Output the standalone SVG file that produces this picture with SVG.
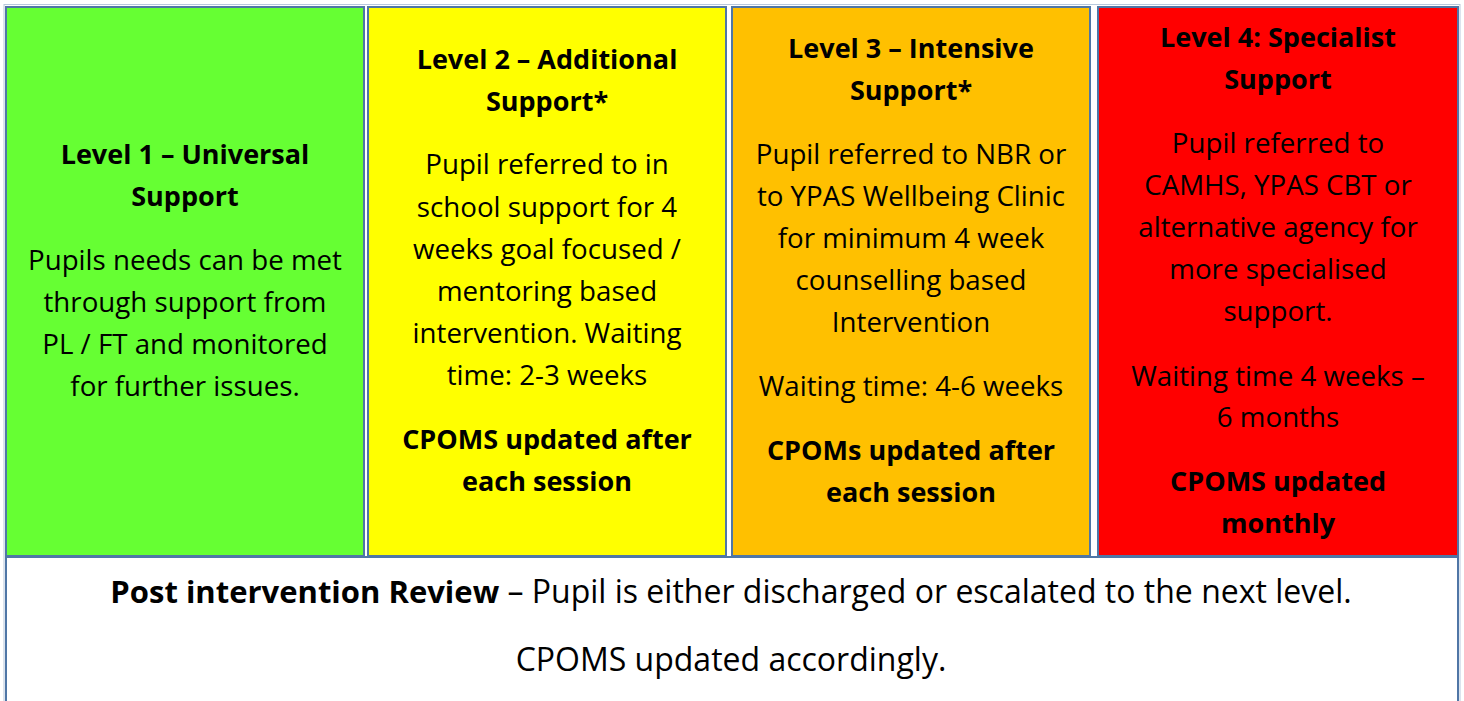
<svg xmlns="http://www.w3.org/2000/svg" width="1464" height="701" viewBox="0 0 1464 701">
<style>
.cell{stroke:#4f76a6;stroke-width:2}
text{font-family:"Open Sans","Noto Sans","Liberation Sans",sans-serif;font-size:27.7px;fill:#000;text-anchor:middle}
.b{font-weight:bold;font-size:27px}
.r{font-size:32px}
.rb{font-weight:bold;font-size:31px}
</style>
<rect x="0" y="0" width="1464" height="701" fill="#fff"/>
<rect x="4" y="4.5" width="1456" height="700" fill="none" stroke="#b8c8dc" stroke-width="1"/>
<g id="level1">
<rect class="cell" x="6" y="7" width="358" height="549" fill="#66ff33"/>
<text class="b" x="185" y="164">Level 1 – Universal</text>
<text class="b" x="185" y="206">Support</text>
<text x="185" y="270">Pupils needs can be met</text>
<text x="185" y="312">through support from</text>
<text x="185" y="354">PL / FT and monitored</text>
<text x="185" y="396">for further issues.</text>
</g>
<g id="level2">
<rect class="cell" x="368" y="7" width="358" height="549" fill="#ffff00"/>
<text class="b" x="547" y="69">Level 2 – Additional</text>
<text class="b" x="547" y="111">Support*</text>
<text x="547" y="174">Pupil referred to in</text>
<text x="547" y="217">school support for 4</text>
<text x="547" y="259">weeks goal focused /</text>
<text x="547" y="301">mentoring based</text>
<text x="547" y="343">intervention. Waiting</text>
<text x="547" y="385">time: 2-3 weeks</text>
<text class="b" x="547" y="449">CPOMS updated after</text>
<text class="b" x="547" y="491">each session</text>
</g>
<g id="level3">
<rect class="cell" x="732" y="7" width="358" height="549" fill="#ffc000"/>
<text class="b" x="911" y="58">Level 3 – Intensive</text>
<text class="b" x="911" y="100">Support*</text>
<text x="911" y="164">Pupil referred to NBR or</text>
<text x="911" y="206">to YPAS Wellbeing Clinic</text>
<text x="911" y="248">for minimum 4 week</text>
<text x="911" y="290">counselling based</text>
<text x="911" y="332">Intervention</text>
<text x="911" y="396">Waiting time: 4-6 weeks</text>
<text class="b" x="911" y="460">CPOMs updated after</text>
<text class="b" x="911" y="502">each session</text>
</g>
<g id="level4">
<rect class="cell" x="1098" y="7" width="360" height="549" fill="#ff0000"/>
<text class="b" x="1278" y="47">Level 4: Specialist</text>
<text class="b" x="1278" y="89">Support</text>
<text x="1278" y="153">Pupil referred to</text>
<text x="1278" y="195">CAMHS, YPAS CBT or</text>
<text x="1278" y="237">alternative agency for</text>
<text x="1278" y="279">more specialised</text>
<text x="1278" y="321">support.</text>
<text x="1278" y="386">Waiting time 4 weeks –</text>
<text x="1278" y="427">6 months</text>
<text class="b" x="1278" y="491">CPOMS updated</text>
<text class="b" x="1278" y="533">monthly</text>
</g>
<g id="review">
<rect class="cell" x="6" y="557" width="1452" height="160" fill="#fff"/>
<text class="r" x="731" y="603"><tspan class="rb">Post intervention Review</tspan> – Pupil is either discharged or escalated to the next level.</text>
<text class="r" x="731" y="671">CPOMS updated accordingly.</text>
</g>
<g id="connectors"/>
</svg>
